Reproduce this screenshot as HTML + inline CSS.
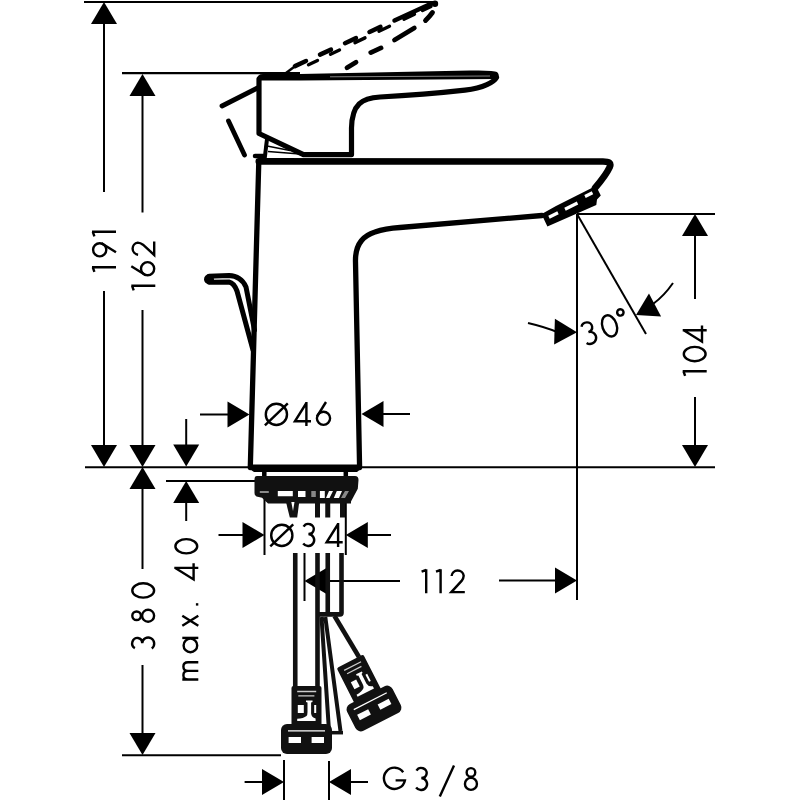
<!DOCTYPE html><html><head><meta charset="utf-8"><title>Faucet drawing</title><style>html,body{margin:0;padding:0;background:#fff;}svg{display:block;}</style></head><body>
<svg width="800" height="800" viewBox="0 0 800 800">
<rect width="800" height="800" fill="#fff"/>
<path d="M84.00,2.00 L434.00,2.00" stroke="#000" stroke-width="2.0" fill="none"/>
<path d="M122.00,73.20 L300.00,73.20" stroke="#000" stroke-width="2.2" fill="none"/>
<path d="M104.00,22.00 L104.00,192.00" stroke="#000" stroke-width="2.0" fill="none"/>
<path d="M104.00,291.00 L104.00,448.00" stroke="#000" stroke-width="2.0" fill="none"/>
<path d="M104.00,2.00 L117.00,24.00 L91.00,24.00 Z" fill="#000"/>
<path d="M104.00,467.00 L91.00,445.00 L117.00,445.00 Z" fill="#000"/>
<path d="M142.50,93.00 L142.50,212.50" stroke="#000" stroke-width="2.0" fill="none"/>
<path d="M142.50,310.00 L142.50,448.00" stroke="#000" stroke-width="2.0" fill="none"/>
<path d="M142.50,74.00 L155.50,96.00 L129.50,96.00 Z" fill="#000"/>
<path d="M142.50,467.00 L129.50,445.00 L155.50,445.00 Z" fill="#000"/>
<path d="M142.50,467.00 L155.50,489.00 L129.50,489.00 Z" fill="#000"/>
<path d="M142.50,487.00 L142.50,569.00" stroke="#000" stroke-width="2.0" fill="none"/>
<path d="M142.50,665.00 L142.50,735.00" stroke="#000" stroke-width="2.0" fill="none"/>
<path d="M142.50,755.00 L129.50,733.00 L155.50,733.00 Z" fill="#000"/>
<path d="M85.00,467.30 L252.00,467.30" stroke="#000" stroke-width="2.0" fill="none"/>
<path d="M358.00,467.30 L715.00,467.30" stroke="#000" stroke-width="2.0" fill="none"/>
<path d="M166.00,481.00 L256.00,481.00" stroke="#000" stroke-width="2.0" fill="none"/>
<path d="M122.00,755.30 L281.00,755.30" stroke="#000" stroke-width="2.0" fill="none"/>
<path d="M186.20,419.00 L186.20,448.00" stroke="#000" stroke-width="2.0" fill="none"/>
<path d="M186.20,466.50 L173.20,444.50 L199.20,444.50 Z" fill="#000"/>
<path d="M186.20,481.00 L199.20,503.00 L173.20,503.00 Z" fill="#000"/>
<path d="M186.20,500.00 L186.20,521.00" stroke="#000" stroke-width="2.0" fill="none"/>
<path d="M200.00,414.50 L230.00,414.50" stroke="#000" stroke-width="2.0" fill="none"/>
<path d="M249.50,414.50 L227.50,427.50 L227.50,401.50 Z" fill="#000"/>
<path d="M380.00,414.00 L410.00,414.00" stroke="#000" stroke-width="2.0" fill="none"/>
<path d="M361.50,414.00 L383.50,401.00 L383.50,427.00 Z" fill="#000"/>
<path d="M264.50,497.00 L264.50,555.00" stroke="#000" stroke-width="2.0" fill="none"/>
<path d="M345.80,497.00 L345.80,555.00" stroke="#000" stroke-width="2.0" fill="none"/>
<path d="M218.50,535.00 L245.00,535.00" stroke="#000" stroke-width="2.0" fill="none"/>
<path d="M264.50,535.00 L242.50,548.00 L242.50,522.00 Z" fill="#000"/>
<path d="M365.00,535.00 L391.00,535.00" stroke="#000" stroke-width="2.0" fill="none"/>
<path d="M345.80,535.00 L367.80,522.00 L367.80,548.00 Z" fill="#000"/>
<path d="M304.50,553.00 L304.50,601.00" stroke="#000" stroke-width="2.0" fill="none"/>
<path d="M324.00,581.00 L400.00,581.00" stroke="#000" stroke-width="2.0" fill="none"/>
<path d="M304.50,581.00 L326.50,568.00 L326.50,594.00 Z" fill="#000"/>
<path d="M499.00,580.50 L557.00,580.50" stroke="#000" stroke-width="2.0" fill="none"/>
<path d="M577.00,580.50 L555.00,593.50 L555.00,567.50 Z" fill="#000"/>
<path d="M577.00,214.00 L577.00,600.00" stroke="#000" stroke-width="2.0" fill="none"/>
<path d="M577.00,214.00 L715.00,214.00" stroke="#000" stroke-width="2.0" fill="none"/>
<path d="M695.00,234.00 L695.00,299.00" stroke="#000" stroke-width="2.0" fill="none"/>
<path d="M695.00,397.00 L695.00,448.00" stroke="#000" stroke-width="2.0" fill="none"/>
<path d="M695.00,214.00 L708.00,236.00 L682.00,236.00 Z" fill="#000"/>
<path d="M695.00,467.00 L682.00,445.00 L708.00,445.00 Z" fill="#000"/>
<path d="M577.00,214.00 L646.00,334.00" stroke="#000" stroke-width="2.0" fill="none"/>
<path d="M528,323 Q545,327 557,332" stroke="#000" stroke-width="2" fill="none"/>
<path d="M577.00,332.30 L554.12,344.62 L554.90,318.63 Z" fill="#000"/>
<path d="M673,283 Q664,296 653,304" stroke="#000" stroke-width="2" fill="none"/>
<path d="M636.00,315.00 L648.97,293.48 L661.08,316.49 Z" fill="#000"/>
<path d="M284.00,760.00 L284.00,800.00" stroke="#000" stroke-width="2.0" fill="none"/>
<path d="M329.00,761.00 L329.00,800.00" stroke="#000" stroke-width="2.0" fill="none"/>
<path d="M244.60,782.00 L264.00,782.00" stroke="#000" stroke-width="2.0" fill="none"/>
<path d="M284.00,782.00 L262.00,795.00 L262.00,769.00 Z" fill="#000"/>
<path d="M349.00,782.00 L368.00,782.00" stroke="#000" stroke-width="2.0" fill="none"/>
<path d="M329.00,782.00 L351.00,769.00 L351.00,795.00 Z" fill="#000"/>
<path d="M258.8,161.5 L250.3,467.5 M359.6,467.5 L355.5,262 C355,246 362,236 375,232 C382,229.5 392,228 400,227.5 L542,215.5" stroke="#000" fill="none" stroke-linejoin="round" stroke-linecap="round" stroke-width="5.3"/>
<path d="M258.8,161.4 L603,161.5 C609,161.5 611.5,163 609.8,167 C607,173 601,181 595,188" stroke="#000" fill="none" stroke-linejoin="round" stroke-linecap="round" stroke-width="6.6"/>
<path d="M249,464.5 L362,464.5 L362,468 L357,472 L254,472 L248,468 Z" fill="#000"/>
<path d="M542.9,216.9 L541.7,214.1 L556,206 L595.7,186 L597.4,188.8 L600.8,195.6 L597,199.5 L596.3,205 L547.4,226.5 Z" fill="#000"/>
<path d="M549,217.3 L558,212.8 M565,209.3 L577.5,203 M585,196.5 L592.5,192.8" stroke="#fff" stroke-width="3.2" stroke-linecap="butt"/>
<path d="M259,79 L259,133.5 L303.5,154.6 L351.5,154.6 L351.5,128 C352,104 362,98 380,97 C400,96 440,93 465,90.2 C484,87.8 494,82 496.5,77.5" stroke="#000" fill="none" stroke-linejoin="round" stroke-linecap="round" stroke-width="5.2"/>
<path d="M257,79.5 Q257,74 263,74 L300,74 L470,70.5 Q494,70 497,72 Q500,75 498,78 L496,79 L300,80.5 L257,80.5 Z" fill="#000"/>
<path d="M330,76.8 L490,76" stroke="#bbb" stroke-width="0.7"/>
<path d="M267,139 L264.5,160" stroke="#000" stroke-width="4"/>
<path d="M267,146 L290,150.5 M268,151.5 L300,154" stroke="#000" stroke-width="1.6"/>
<path d="M257.5,88 L222,106" stroke="#000" fill="none" stroke-linejoin="round" stroke-linecap="round" stroke-width="4.8"/>
<path d="M228.5,121 L244.5,155" stroke="#000" fill="none" stroke-linejoin="round" stroke-linecap="round" stroke-width="4.8"/>
<path d="M255,156 L263,156" stroke="#000" fill="none" stroke-linejoin="round" stroke-linecap="round" stroke-width="4.5"/>
<path d="M286,73 L294,67" stroke="#000" stroke-width="2.5" fill="none"/>
<path d="M295.00,66.08 L306.00,61.05 M320.00,54.63 L331.00,49.60 M345.00,43.18 L356.00,38.15 M369.50,31.96 L380.50,26.92 M394.50,20.51 L431.00,3.80 " stroke="#000" stroke-width="4.5" stroke-linecap="round" fill="none"/>
<path d="M308.50,64.79 L317.50,60.50 M330.50,54.31 L339.50,50.03 M355.00,42.65 L365.00,37.89 M379.00,31.23 L389.50,26.23 M404.00,19.33 L414.50,14.33 M422.50,10.52 L431.00,6.48 " stroke="#000" stroke-width="3.4" stroke-linecap="round" fill="none"/>
<path d="M347,67.8 L356,62.2 M370.8,52.6 L381,47.9 M394.5,40 L414.3,28 M425.5,20.5 Q430,16 432.5,12.5" stroke="#000" fill="none" stroke-linejoin="round" stroke-linecap="round" stroke-width="4.8"/>
<circle cx="435" cy="3.8" r="3.2" fill="#000"/>
<path d="M209,276.3 L229,275.6 Q241,276 246,287 L254.5,330" stroke="#000" fill="none" stroke-linejoin="round" stroke-linecap="round" stroke-width="5"/>
<path d="M209,282.2 L229,282 Q234,283 237,291 L253,350" stroke="#000" fill="none" stroke-linejoin="round" stroke-linecap="round" stroke-width="5"/>
<circle cx="209" cy="279.3" r="5" fill="#000"/>
<path d="M264.3,471 V477 M345.8,471 V477" stroke="#000" stroke-width="4.5"/>
<path d="M257,476 L355,476 Q358.5,476 358.5,480 L357.8,488.8 L351,501.5 L351,503.4 L268,503.4 L262,497.8 L256.5,496.5 Q254.5,495.5 254.5,493 L254.5,479 Q254.5,476 257,476 Z" fill="#111"/>
<path d="M259.8,492 H268.8" stroke="#999" stroke-width="1.8"/>
<path d="M277.8,491 h15 v5.3 h-15 Z M298,491 h7.5 v6 h-7.5 Z M319.9,491 h4.9 v7 h-4.9 Z M329,491 h4 l-3.5,7 h-3.5 Z M336.8,491 h5.2 l-3,7 h-5.2 Z" fill="#fff"/>
<path d="M311.3,491 h4.5 v6 h-4.5 Z M345,491 h4 l-4,7 h-4 Z" fill="#888"/>
<path d="M285.5,500 L299.5,500 L297.2,517.5 L289.8,517.5 Z" fill="#111"/>
<path d="M291.3,502 L294.5,502 L293,511 Z" fill="#fff"/>
<path d="M317.5,500 V517.5 M327.75,500 V517.5 M342.5,500 V517.5" stroke="#111" stroke-width="5"/>
<path d="M295.25,553 V688 M317.5,553 V688" stroke="#111" stroke-width="4.6"/>
<path d="M327.75,553 V614 M341.5,553 V613 Q341.5,614.4 340,614.4 L319,614.4" stroke="#111" stroke-width="4.6" fill="none"/>
<path d="M321.5,617 L329,731 M325.3,617 L340.5,731" stroke="#111" stroke-width="4"/>
<path d="M327,732.7 H343" stroke="#111" stroke-width="3.5"/>
<path d="M334.5,616 L359,657" stroke="#111" stroke-width="4.6"/>
<g transform="translate(306.5,739)"><rect x="-15" y="-53" width="30" height="42" rx="2" fill="#111"/><rect x="-25.5" y="-15" width="51" height="30" rx="6" fill="#111"/><path d="M-9.3,-47.5 H9.7 M-8.2,-43.2 H7.9" stroke="#ccc" stroke-width="1.3"/><path d="M-0.5,-38.6 H6 V-37 L4.6,-36.4 V-25.5 Q5,-21.5 9.1,-20.4 V-17.9 H-9.3 V-20.2 Q-3,-20.5 0,-23 Q1,-24 1,-27 V-36.4 L-0.5,-37 Z" fill="#fff"/><rect x="-8.7" y="-34" width="6" height="8" fill="#fff"/><rect x="7.7" y="-34" width="2" height="8" fill="#fff"/><path d="M-18.5,-8.2 H18.5" stroke="#fff" stroke-width="1.3"/><rect x="-17.9" y="-2" width="12.4" height="6" fill="#fff"/><rect x="5.1" y="-2" width="12.4" height="6" fill="#fff"/></g>
<g transform="translate(374,708.5) rotate(-27)"><rect x="-15" y="-53" width="30" height="42" rx="2" fill="#111"/><rect x="-25.5" y="-15" width="51" height="30" rx="6" fill="#111"/><path d="M-9.3,-47.5 H9.7 M-8.2,-43.2 H7.9" stroke="#ccc" stroke-width="1.3"/><path d="M-0.5,-38.6 H6 V-37 L4.6,-36.4 V-25.5 Q5,-21.5 9.1,-20.4 V-17.9 H-9.3 V-20.2 Q-3,-20.5 0,-23 Q1,-24 1,-27 V-36.4 L-0.5,-37 Z" fill="#fff"/><rect x="-8.7" y="-34" width="6" height="8" fill="#fff"/><rect x="7.7" y="-34" width="2" height="8" fill="#fff"/><path d="M-18.5,-8.2 H18.5" stroke="#fff" stroke-width="1.3"/><rect x="-17.9" y="-2" width="12.4" height="6" fill="#fff"/><rect x="5.1" y="-2" width="12.4" height="6" fill="#fff"/></g>
<g role="img" aria-label="191" transform="translate(116.00,272.50) rotate(-90)" fill="none" stroke="#000" stroke-width="2.4"><title>191</title><g transform="translate(0.00,0)"><path d="M0.6,-21.6 L5.2,-23.2 M5.2,-24 V0"/></g><g transform="translate(14.80,0)"><circle cx="7.9" cy="-16.3" r="6.6"/><path d="M14.4,-14.5 L5.4,0"/></g><g transform="translate(35.50,0)"><path d="M0.6,-21.6 L5.2,-23.2 M5.2,-24 V0"/></g></g>
<g role="img" aria-label="162" transform="translate(155.30,291.00) rotate(-90)" fill="none" stroke="#000" stroke-width="2.4"><title>162</title><g transform="translate(0.00,0)"><path d="M0.6,-21.6 L5.2,-23.2 M5.2,-24 V0"/></g><g transform="translate(14.50,0)"><circle cx="7.8" cy="-7.7" r="6.6"/><path d="M1.3,-9.5 L10.3,-24"/></g><g transform="translate(34.90,0)"><path d="M1.4,-17.2 A6.1,6.1 0 0 1 13.5,-17.5 Q13.4,-14.8 11.4,-12.3 L1.1,-1.1 H14.6"/></g></g>
<g role="img" aria-label="380" transform="translate(155.20,649.70) rotate(-90)" fill="none" stroke="#000" stroke-width="2.4"><title>380</title><g transform="translate(0.00,0)"><path d="M1.6,-20.3 A5.4,5.0 0 1 1 6.4,-13.0 M6.4,-13.0 A6.1,6.0 0 1 1 1.2,-3.4"/></g><g transform="translate(26.70,0)"><circle cx="7.25" cy="-18.6" r="4.3"/><circle cx="7.25" cy="-7.1" r="6.0"/></g><g transform="translate(51.00,0)"><ellipse cx="8.25" cy="-12" rx="7.15" ry="10.9"/></g></g>
<g role="img" aria-label="max. 40" transform="translate(198.30,680.60) rotate(-90)" fill="none" stroke="#000" stroke-width="2.4"><title>max. 40</title><g transform="translate(0.00,0)"><path d="M1.1,-16 V0 M1.1,-10.3 Q1.1,-14.9 5.4,-14.9 Q9.75,-14.9 9.75,-10.3 V0 M9.75,-10.3 Q9.75,-14.9 14.1,-14.9 Q18.4,-14.9 18.4,-10.3 V0"/></g><g transform="translate(27.30,0)"><circle cx="7.9" cy="-7.9" r="6.8"/><path d="M15.4,-16 V0"/></g><g transform="translate(53.90,0)"><path d="M1,-16 L11,0 M11,-16 L1,0"/></g><g transform="translate(75.00,0)"><rect x="0" y="-2.4" width="2.4" height="2.4" fill="#000" stroke="none"/></g><g transform="translate(100.10,0)"><path d="M12.6,-23 L1.1,-4.7 H17.2 M12.6,-24 V0"/></g><g transform="translate(126.10,0)"><ellipse cx="8.25" cy="-12" rx="7.15" ry="10.9"/></g></g>
<g role="img" aria-label="104" transform="translate(706.70,376.50) rotate(-90)" fill="none" stroke="#000" stroke-width="2.4"><title>104</title><g transform="translate(0.00,0)"><path d="M0.6,-21.6 L5.2,-23.2 M5.2,-24 V0"/></g><g transform="translate(14.20,0)"><ellipse cx="8.25" cy="-12" rx="7.15" ry="10.9"/></g><g transform="translate(33.70,0)"><path d="M12.6,-23 L1.1,-4.7 H17.2 M12.6,-24 V0"/></g></g>
<g role="img" aria-label="112" transform="translate(421,593.2)" fill="none" stroke="#000" stroke-width="2.4"><title>112</title><g transform="translate(0.00,0)"><path d="M0.6,-21.6 L5.2,-23.2 M5.2,-24 V0"/></g><g transform="translate(14.40,0)"><path d="M0.6,-21.6 L5.2,-23.2 M5.2,-24 V0"/></g><g transform="translate(29.20,0)"><path d="M1.4,-17.2 A6.1,6.1 0 0 1 13.5,-17.5 Q13.4,-14.8 11.4,-12.3 L1.1,-1.1 H14.6"/></g></g>
<g role="img" aria-label="Ø46" transform="translate(264.6,426)" fill="none" stroke="#000" stroke-width="2.4"><title>Ø46</title><g transform="translate(0.00,0)"><circle cx="11.8" cy="-11.6" r="10.6"/><path d="M0.3,-0.6 L23.2,-22.6"/></g><g transform="translate(29.20,0)"><path d="M12.6,-23 L1.1,-4.7 H17.2 M12.6,-24 V0"/></g><g transform="translate(51.10,0)"><circle cx="7.8" cy="-7.7" r="6.6"/><path d="M1.3,-9.5 L10.3,-24"/></g></g>
<g role="img" aria-label="Ø34" transform="translate(270,547)" fill="none" stroke="#000" stroke-width="2.4"><title>Ø34</title><g transform="translate(0.00,0)"><circle cx="11.8" cy="-11.6" r="10.6"/><path d="M0.3,-0.6 L23.2,-22.6"/></g><g transform="translate(32.00,0)"><path d="M1.6,-20.3 A5.4,5.0 0 1 1 6.4,-13.0 M6.4,-13.0 A6.1,6.0 0 1 1 1.2,-3.4"/></g><g transform="translate(55.50,0)"><path d="M12.6,-23 L1.1,-4.7 H17.2 M12.6,-24 V0"/></g></g>
<g role="img" aria-label="G3/8" transform="translate(382.6,791)" fill="none" stroke="#000" stroke-width="2.4"><title>G3/8</title><g transform="translate(0.00,0)"><path d="M20.6,-18.8 A10.6,10.6 0 1 0 22.3,-10.6 H13"/></g><g transform="translate(32.30,0)"><path d="M1.6,-20.3 A5.4,5.0 0 1 1 6.4,-13.0 M6.4,-13.0 A6.1,6.0 0 1 1 1.2,-3.4"/></g><g transform="translate(56.40,0)"><path d="M0.8,5.5 L15,-25.5"/></g><g transform="translate(81.10,0)"><circle cx="7.25" cy="-18.6" r="4.3"/><circle cx="7.25" cy="-7.1" r="6.0"/></g></g>
<g role="img" aria-label="30°" transform="translate(586.6,346.5) rotate(-19)" fill="none" stroke="#000" stroke-width="2.4"><title>30°</title><g transform="translate(0.00,0)"><path d="M1.6,-20.3 A5.4,5.0 0 1 1 6.4,-13.0 M6.4,-13.0 A6.1,6.0 0 1 1 1.2,-3.4"/></g><g transform="translate(20.15,0)"><ellipse cx="8.25" cy="-12" rx="7.15" ry="10.9"/></g><g transform="translate(43.00,0)"><circle cx="0" cy="-21.2" r="3.2"/></g></g>
</svg></body></html>
